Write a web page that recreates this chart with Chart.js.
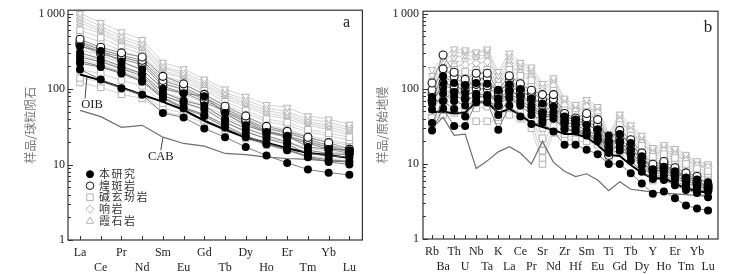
<!DOCTYPE html>
<html>
<head>
<meta charset="utf-8">
<script src="https://cdn.jsdelivr.net/npm/chart.js@4.4.1/dist/chart.umd.min.js"></script>
<style>
  html, body { margin: 0; padding: 0; background: #fff; }
  #wrap { position: relative; width: 737px; height: 274px; }
  .box { position: absolute; top: 0; height: 274px; }
  #boxA { left: 0; width: 368px; }
  #boxB { left: 368px; width: 369px; }
</style>
</head>
<body>
<div id="wrap">
  <div class="box" id="boxA"><canvas id="chartA"></canvas></div>
  <div class="box" id="boxB"><canvas id="chartB"></canvas></div>
</div>
<script>
// ---- panel a : chondrite normalised REE ----
const reeLabels = ['La','Ce','Pr','Nd','Sm','Eu','Gd','Tb','Dy','Ho','Er','Tm','Yb','Lu'];
const oibA = [156,130,105,84,67.6,53,38,29,22.8,19.4,16.4,14.2,13.4,12.2];
const cabA = [52,43,31,33,23,19,17.5,14,13.5,12.5,12,11.7,11.2,10.8];
const studyA = [
  [366,318,230,181,101,88,80,48,33,27,24,17,16,15.5],
  [301,252,200,160,90,70,60,40,30,24,20,15.5,14,13.5],
  [265,230,185,150,82,65,54,37,27,22,18.5,14,13,12.5],
  [234,200,165,130,78,57,46,33,24,19,16,12.7,11.5,11],
  [220,195,160,125,75,55,44,31,23,18.5,15.5,12.5,10.8,10],
  [181,134,102,84,48,42,30,23,17,13.2,10.5,8.6,7.8,7.3]
];
const lampA = [
  [455,357,301,265,147,117,85,59,44,32,27.5,23,19.5,16],
  [420,330,280,240,130,105,78,55,40,30,26,21.5,18,15],
  [400,310,265,225,118,98,72,52,38,28,24,20,17,14.5],
  [380,290,250,210,108,90,68,50,36,27,23,19,16,14]
];
const tephA = [
  [600,480,360,290,150,125,95,68,52,40,36,29,26,23],
  [520,420,320,260,135,112,85,62,48,37,33,27,24,21],
  [330,280,220,180,100,85,66,50,38,30,27,22,20,18],
  [250,210,170,140,80,68,54,42,33,26,23,19,17,15],
  [180,160,130,110,65,56,45,35,28,22,20,16.5,15,13.5],
  [140,125,100,85,55,48,39,30,24,19,17,14.5,13,12],
  [122,105,85,75,50,44,36,28,22,18,15.5,13,12,11]
];
const phonA = [
  [420,350,270,220,120,100,78,56,42,33,29,24,21,19],
  [280,240,190,160,90,75,60,45,35,27,24,20,18,16]
];
const nephA = [
  [1000,760,570,450,225,185,135,100,80,62,57,44,40,34],
  [900,680,500,400,200,165,125,90,72,56,50,40,36,31],
  [820,620,460,370,190,155,115,85,66,52,46,37,33,29],
  [750,580,420,340,175,145,108,80,62,48,43,35,31,27],
  [680,540,400,320,165,138,100,75,58,45,40,33,29,25]
];

// ---- panel b : primitive mantle normalised trace elements ----
const traceLabels = ['Rb','Ba','Th','U','Nb','Ta','K','La','Ce','Pr','Sr','Nd','Zr','Hf','Sm','Eu','Ti','Gd','Tb','Dy','Y','Ho','Er','Tm','Yb','Lu'];
const oibB = [48.8,50,47,48.6,67,66,48,54,45,35,31,28.4,25,25,22.5,17.9,13.2,12.8,9.7,7.6,6.4,6.5,5.5,4.7,4.4,4.1];
const cabB = [30,42,24,25,8.7,11,14.5,17,14,10,20,10.5,8,6.8,7.4,6.1,4.4,5.8,4.6,4.4,4.2,4.1,4.0,3.9,3.8,3.7];
const studyB = [
  [78,148,120,113,120,117,96,115,100,74,64,58,43,39,33,29,24,25,19,12.7,8.5,9.2,8,6.6,6.2,5.7],
  [64,123,91,89,86,83,74,95,81,61,48,50,36,33,28,24,19,19,16,11,7.8,8.2,7,5.8,5.4,5],
  [70,103,80,73,78,78,70,88,70,57,45,46,33,30,26,22,16,17,14,10,7.3,7.7,6.5,5.5,5,4.6],
  [53,87,69,60,69,67,60,80,64,52,43,43,30,28,25,21,14,15,13,9.5,6.8,7,6,5,4.6,4.3],
  [35,69,54,43,80,80,45,75,60,45,38,40,29,27,24,20,20,20,11,7.9,6.3,6.1,5.2,4.5,4.1,3.6],
  [28,55,32,32,66,66,28.6,60,43,34,35,27,18,18,15.5,13.5,10,10,7.5,5.5,4.0,4.3,3.5,2.8,2.55,2.4]
];
const lampB = [
  [120,283,167,134,162,162,96,150,117,96,84,84,47,41,47,39,20,28,21,14,9.9,10.8,8.9,7.6,6.8,5.3],
  [97,185,145,112,134,140,90,130,100,91,71,74,43,38,41,33,17,25,18,12.5,9,10,8,7,6,5],
  [85,120,110,95,115,110,80,110,90,80,61,68,40,36,38,30,15,22,16,11.5,8.5,9,7.5,6.5,5.7,4.8],
  [70,70,95,75,100,100,60,95,80,70,50,60,36,33,34,28,13,20,14,10.5,8,8.3,7,6,5.3,4.5]
];
const nephB = [
  [180,260,340,330,310,340,170,300,225,195,118,140,75,62,72,58,25,46,33,24,16.5,18,16,13.4,11,10],
  [150,230,300,310,300,320,150,270,205,180,105,128,70,57,66,54,23,42,30,22,15.5,17,15,12.5,10.5,9.5],
  [130,200,260,280,270,290,130,240,190,165,95,118,64,53,60,50,21,39,28,20,14.5,15.5,14,11.5,10,9],
  [110,180,220,240,250,260,120,210,170,150,85,108,58,49,55,46,20,36,26,19,13.5,14.5,13,11,9.5,8.5]
];
const tephB = [
  [100,160,180,170,180,180,110,180,150,130,75,95,52,45,50,42,18,33,24,17.5,12.5,13.5,12,10,8.7,8],
  [90,140,150,150,160,170,95,150,125,110,65,82,47,41,45,38,17,30,22,16,11.5,12.5,11,9.3,8,7.4],
  [75,120,130,125,130,135,80,130,110,95,40,72,43,38,41,35,16,27,20,15,10.5,11.5,10,8.5,7.5,7],
  [60,100,110,100,110,110,65,110,95,80,30,62,38,34,37,31,15,25,18,13.5,9.5,10.5,9.2,7.8,7,6.5],
  [50,80,90,85,90,90,55,90,80,67,22,52,34,30,33,28,14,22,16,12,8.7,9.5,8.4,7.2,6.4,6],
  [42,65,70,65,70,72,50,70,62,52,15,42,29,26,28,24,13,19,14,10.5,7.8,8.4,7.5,6.5,5.8,5.4],
  [36,52,55,55,55,58,42,55,48,38,12,32,25,22,24,21,12,16,12,9,6.8,7.4,6.5,5.6,5,4.7],
  [32,45,48,45,37,37,38,45,40,30,10,26,22,20,20,18,11,14,11,8,6,6.5,5.6,4.8,4.3,4]
];
const phonB = [
  [120,190,200,210,220,230,100,200,160,140,55,110,60,50,58,48,19,37,27,19,13.5,15,13,11,9.5,9]
];

const yTicks = [1, 10, 100, 1000];
const yTickLabels = ['1', '10', '100', '1\u2009000'];

const serif = "'Liberation Serif', 'Times New Roman', serif";
const cjk = "'Noto Sans CJK SC', sans-serif";
const grayLine = '#cdcdcd';
const grayMark = '#b3b3b3';

function pts(vals) { return vals.map((v, i) => ({ x: i, y: v })); }

function grayStyle(shape, rot, r) {
  return {
    borderColor: grayLine, borderWidth: 0.9,
    pointStyle: shape, pointRotation: rot || 0, pointRadius: r,
    pointBackgroundColor: '#fff', pointBorderColor: grayMark, pointBorderWidth: 1,
    order: 5
  };
}

function buildSets(study, lamp, teph, phon, neph, oib, cab) {
  const sets = [];
  study.forEach(v => sets.push({
    data: pts(v), borderColor: '#727272', borderWidth: 0.9,
    pointRadius: 4, pointBackgroundColor: '#000', pointBorderColor: '#000', pointBorderWidth: 0, order: 1
  }));
  lamp.forEach(v => sets.push({
    data: pts(v), borderColor: '#858585', borderWidth: 0.9,
    pointRadius: 4, pointBackgroundColor: '#fff', pointBorderColor: '#111', pointBorderWidth: 1.1, order: 2
  }));
  sets.push({ data: pts(oib), borderColor: '#000', borderWidth: 2, pointRadius: 0, order: 3 });
  sets.push({ data: pts(cab), borderColor: '#6e6e6e', borderWidth: 1.2, pointRadius: 0, order: 3 });
  teph.forEach(v => sets.push({ data: pts(v), ...grayStyle('rect', 0, 4.6) }));
  phon.forEach(v => sets.push({ data: pts(v), ...grayStyle('rectRot', 0, 4) }));
  neph.forEach(v => sets.push({ data: pts(v), ...grayStyle('triangle', 180, 4.2) }));
  return sets;
}

// frame, inward ticks, axis title, labels and legend
const decor = {
  id: 'decor',
  beforeDatasetsDraw(chart, args, o) {
    const { ctx, chartArea: a, scales: { x, y } } = chart;
    ctx.save();
    ctx.strokeStyle = '#333';
    ctx.lineWidth = 1;
    ctx.beginPath();
    for (let d = 1; d < y.max; d *= 10) {
      for (let m = 1; m < 10; m++) {
        const v = d * m;
        if (v > y.max) break;
        const py = Math.round(y.getPixelForValue(v)) + 0.5;
        const len = m === 1 ? 5 : 3;
        ctx.moveTo(a.left, py);
        ctx.lineTo(a.left + len, py);
      }
    }
    x.ticks.forEach(t => {
      const px = Math.round(x.getPixelForValue(t.value)) + 0.5;
      ctx.moveTo(px, a.bottom);
      ctx.lineTo(px, a.bottom - 4);
    });
    ctx.stroke();
    ctx.lineWidth = 1.2;
    ctx.strokeRect(a.left, a.top, a.right - a.left, a.bottom - a.top);

    // rotated y axis title
    ctx.translate(o.titleX, (a.top + a.bottom) / 2);
    ctx.rotate(-Math.PI / 2);
    ctx.fillStyle = '#777';
    ctx.font = '12px ' + cjk;
    ctx.textAlign = 'center';
    ctx.textBaseline = 'middle';
    ctx.fillText(o.yTitle, 0, 0);
    ctx.restore();
  },
  afterDatasetsDraw(chart, args, o) {
    const { ctx, chartArea: a, scales: { x, y } } = chart;
    ctx.save();
    ctx.strokeStyle = '#333';
    ctx.lineWidth = 0.9;
    (o.leaders || []).forEach(l => {
      ctx.beginPath();
      ctx.moveTo(x.getPixelForValue(l[0]), y.getPixelForValue(l[1]));
      ctx.lineTo(x.getPixelForValue(l[2]), y.getPixelForValue(l[3]));
      ctx.stroke();
    });
    ctx.fillStyle = '#222';
    ctx.textAlign = 'center';
    ctx.textBaseline = 'middle';
    (o.notes || []).forEach(n => {
      ctx.font = n.font;
      ctx.fillText(n.text, x.getPixelForValue(n.x), y.getPixelForValue(n.y));
    });
    if (o.legend) {
      const rows = [164, 175.5, 187, 199, 211];
      o.legend.forEach((it, i) => {
        const py = a.top + rows[i];
        ctx.fillStyle = it.fill;
        ctx.strokeStyle = it.stroke;
        ctx.lineWidth = 1;
        Chart.helpers.drawPoint(ctx, { pointStyle: it.style, radius: it.r, rotation: 0, borderWidth: 1 }, a.left + 22, py);
        ctx.fillStyle = '#333';
        ctx.font = '11px ' + cjk;
        ctx.textAlign = 'left';
        ctx.letterSpacing = '1.5px';
        ctx.fillText(it.label, a.left + 31, py);
      });
    }
    ctx.restore();
  }
};

function makeChart(id, labels, sets, cfg) {
  return new Chart(document.getElementById(id), {
    type: 'line',
    data: { datasets: sets },
    plugins: [decor],
    options: {
      responsive: true,
      maintainAspectRatio: false,
      animation: false,
      layout: { padding: cfg.padding },
      elements: { line: { tension: 0 } },
      plugins: {
        legend: { display: false },
        tooltip: { enabled: false },
        decor: cfg.decor
      },
      scales: {
        x: {
          type: 'linear', bounds: 'data',
          min: cfg.xMin, max: cfg.xMax,
          grid: { display: false, drawTicks: false }, border: { display: false },
          afterBuildTicks: s => { s.ticks = labels.map((c, i) => ({ value: i })); },
          afterFit: s => { s.height = cfg.xHeight; },
          ticks: {
            autoSkip: false, maxRotation: 0, padding: 5, color: '#222',
            font: { family: serif, size: 12, lineHeight: 1.25 },
            callback: v => (Math.round(v) % 2 === 0 ? labels[Math.round(v)] : ['', labels[Math.round(v)]])
          }
        },
        y: {
          type: 'logarithmic', bounds: 'data',
          min: 1, max: cfg.yMax,
          grid: { display: false, drawTicks: false }, border: { display: false },
          afterBuildTicks: s => { s.ticks = yTicks.map(v => ({ value: v })); },
          afterFit: s => { s.width = cfg.yWidth; },
          ticks: {
            padding: cfg.yPad, color: '#222',
            font: { family: serif, size: 12 },
            callback: v => yTickLabels[yTicks.indexOf(v)]
          }
        }
      }
    }
  });
}

makeChart('chartA', reeLabels,
  buildSets(studyA, lampA, tephA, phonA, nephA, oibA, cabA), {
    padding: { left: 0, right: 5, top: 10, bottom: 0 },
    xMin: -0.58, xMax: 13.63, xHeight: 34,
    yMax: 1106, yWidth: 68, yPad: 3,
    decor: {
      yTitle: '样品/球粒陨石', titleX: 30,
      leaders: [[0.24, 75, 0.34, 150], [3.9, 15.5, 4.0, 22.5]],
      notes: [
        { text: 'OIB', x: 0.58, y: 61, font: '12.5px ' + serif },
        { text: 'CAB', x: 3.9, y: 12.5, font: '12.5px ' + serif },
        { text: 'a', x: 12.86, y: 760, font: '16px ' + serif }
      ],
      legend: [
        { label: '本研究', style: 'circle', fill: '#000', stroke: '#000', r: 3.5 },
        { label: '煌斑岩', style: 'circle', fill: '#fff', stroke: '#111', r: 3.8 },
        { label: '碱玄玢岩', style: 'rect', fill: '#fff', stroke: grayMark, r: 4.6 },
        { label: '响岩', style: 'rectRot', fill: '#fff', stroke: grayMark, r: 4 },
        { label: '霞石岩', style: 'triangle', fill: '#fff', stroke: grayMark, r: 4.2 }
      ]
    }
  });

makeChart('chartB', traceLabels,
  buildSets(studyB, lampB, tephB, phonB, nephB, oibB, cabB), {
    padding: { left: 0, right: 19, top: 8, bottom: 0 },
    xMin: -0.82, xMax: 25.9, xHeight: 35,
    yMax: 1085, yWidth: 55, yPad: 4,
    decor: {
      yTitle: '样品/原始地幔', titleX: 14,
      notes: [{ text: 'b', x: 25.0, y: 655, font: '17px ' + serif }]
    }
  });
</script>
</body>
</html>
